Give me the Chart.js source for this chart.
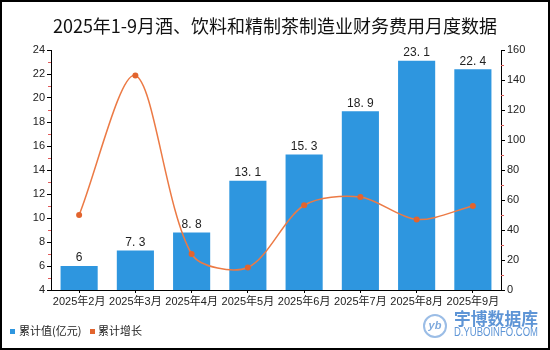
<!DOCTYPE html>
<html>
<head>
<meta charset="utf-8">
<script src="https://cdn.jsdelivr.net/npm/chart.js@4"></script>
<style>
  body { margin: 0; background: #fff; }
  #wrap { width: 550px; height: 350px; }
</style>
</head>
<body>
<div id="wrap"><canvas id="chart" width="550" height="350"></canvas></div>
<script>
// Données
const months = ['2025年2月', '2025年3月', '2025年4月', '2025年5月', '2025年6月', '2025年7月', '2025年8月', '2025年9月'];
const cumValue = [6, 7.3, 8.8, 13.1, 15.3, 18.9, 23.1, 22.4];
const cumGrowth = [50, 143, 24, 15, 56.5, 62, 47, 56];
const leftTicks = { min: 4, max: 24, step: 2 };
const rightTicks = { min: 0, max: 160, step: 20 };

const titleText = '2025年1-9月酒、饮料和精制茶制造业财务费用月度数据';
const barColor = '#2E96DF';
const lineColor = '#EC7A45';
const pointColor = '#E2642E';
const fontFamily = '"Liberation Sans", "Noto Sans CJK SC", sans-serif';

// Décor : cadre, titre, légende, filigrane, étiquettes, petites graduations
const decor = {
  id: 'decor',
  beforeDraw(chart) {
    const ctx = chart.ctx;
    ctx.save();
    ctx.fillStyle = '#fff';
    ctx.fillRect(0, 0, chart.width, chart.height);
    ctx.restore();
  },
  afterDraw(chart) {
    const ctx = chart.ctx;
    ctx.save();

    // titre
    ctx.fillStyle = '#111';
    ctx.font = '18px "Noto Sans CJK SC", sans-serif';
    ctx.textAlign = 'center';
    ctx.textBaseline = 'middle';
    ctx.fillText(titleText, 275, 26);

    // étiquettes des barres
    const meta = chart.getDatasetMeta(1);
    ctx.font = '12px ' + fontFamily;
    ctx.fillStyle = '#222';
    ctx.textBaseline = 'bottom';
    meta.data.forEach((bar, i) => {
      const txt = String(cumValue[i]).replace('.', '. ');
      ctx.fillText(txt, bar.x, bar.y - 2);
    });

    // petites graduations rouges
    ctx.strokeStyle = '#E05A5A';
    ctx.lineWidth = 1;
    const y = chart.scales.y, y1 = chart.scales.y1;
    for (let v = leftTicks.min + leftTicks.step / 2; v < leftTicks.max; v += leftTicks.step) {
      const py = Math.round(y.getPixelForValue(v)) + 0.5;
      ctx.beginPath();
      ctx.moveTo(chart.chartArea.left - 3, py);
      ctx.lineTo(chart.chartArea.left, py);
      ctx.stroke();
    }
    for (let v = rightTicks.min + rightTicks.step / 2; v < rightTicks.max; v += rightTicks.step) {
      const py = Math.round(y1.getPixelForValue(v)) + 0.5;
      ctx.beginPath();
      ctx.moveTo(chart.chartArea.right, py);
      ctx.lineTo(chart.chartArea.right + 3, py);
      ctx.stroke();
    }

    // légende
    ctx.textAlign = 'left';
    ctx.textBaseline = 'middle';
    ctx.font = '11px "Noto Sans CJK SC", sans-serif';
    ctx.fillStyle = barColor;
    ctx.fillRect(10, 329, 5, 5);
    ctx.fillStyle = '#222';
    ctx.fillText('累计值(亿元)', 19, 331);
    ctx.fillStyle = pointColor;
    ctx.fillRect(90, 329, 5, 5);
    ctx.fillStyle = '#222';
    ctx.fillText('累计增长', 98, 331);

    // filigrane
    ctx.strokeStyle = '#9BBDE6';
    ctx.lineWidth = 2;
    ctx.beginPath();
    ctx.arc(435, 326, 11, 0, Math.PI * 2);
    ctx.stroke();
    ctx.fillStyle = '#7FAADD';
    ctx.font = 'italic bold 11px "Liberation Sans", sans-serif';
    ctx.textAlign = 'center';
    ctx.fillText('yb', 435, 326);
    ctx.fillStyle = '#5E95D6';
    ctx.font = 'bold 17px "Noto Sans CJK SC", sans-serif';
    ctx.textAlign = 'left';
    ctx.fillText('宇博数据库', 454, 319, 84);
    ctx.font = '12px "Liberation Sans", sans-serif';
    ctx.fillText('D.YUBOINFO.COM', 454, 333, 84);

    // cadre
    ctx.strokeStyle = '#000';
    ctx.lineWidth = 2;
    ctx.strokeRect(1, 1, 548, 348);
    ctx.restore();
  }
};

const ctx = document.getElementById('chart').getContext('2d');
new Chart(ctx, {
  type: 'bar',
  data: {
    labels: months,
    datasets: [
      {
        type: 'line',
        label: '累计增长',
        data: cumGrowth,
        yAxisID: 'y1',
        borderColor: lineColor,
        backgroundColor: pointColor,
        borderWidth: 1.5,
        pointRadius: 3,
        pointBorderWidth: 0,
        tension: 0.3,
        order: 0
      },
      {
        label: '累计值(亿元)',
        data: cumValue,
        yAxisID: 'y',
        backgroundColor: barColor,
        barPercentage: 0.66,
        categoryPercentage: 1,
        order: 1
      }
    ]
  },
  options: {
    responsive: false,
    animation: false,
    layout: { padding: { top: 50, left: 0, right: 0, bottom: 0 } },
    plugins: { legend: { display: false }, title: { display: false }, tooltip: { enabled: false } },
    scales: {
      x: {
        afterFit: s => { s.height = 60; },
        grid: { display: true, drawOnChartArea: false, offset: false, color: '#000', tickLength: 3 },
        border: { color: '#000', width: 1 },
        ticks: { color: '#222', font: { size: 11, family: fontFamily }, padding: 2, maxRotation: 0, autoSkip: false }
      },
      y: {
        position: 'left',
        min: leftTicks.min, max: leftTicks.max,
        afterFit: s => { s.width = 51; },
        grid: { display: true, drawOnChartArea: false, color: '#000', tickLength: 4 },
        border: { color: '#000', width: 1 },
        ticks: { stepSize: leftTicks.step, color: '#222', font: { size: 11, family: fontFamily }, padding: 2 }
      },
      y1: {
        position: 'right',
        min: rightTicks.min, max: rightTicks.max,
        afterFit: s => { s.width = 49; },
        grid: { display: true, drawOnChartArea: false, color: '#000', tickLength: 4 },
        border: { color: '#000', width: 1 },
        ticks: { stepSize: rightTicks.step, color: '#222', font: { size: 11, family: fontFamily }, padding: 2 }
      }
    }
  },
  plugins: [decor]
});
</script>
</body>
</html>
